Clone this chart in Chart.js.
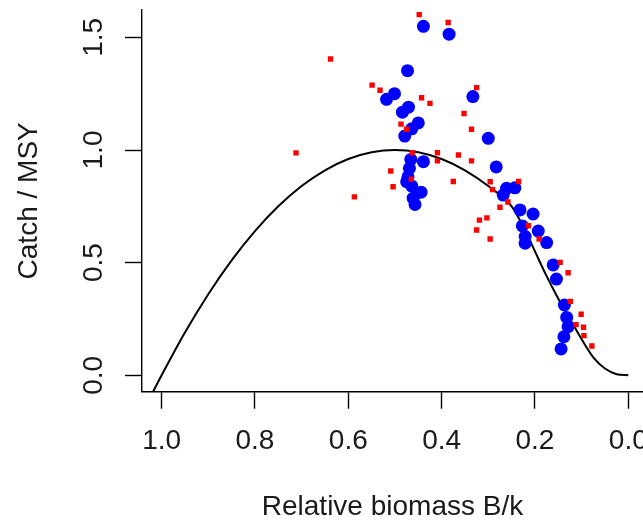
<!DOCTYPE html>
<html>
<head>
<meta charset="utf-8">
<script src="https://cdn.jsdelivr.net/npm/chart.js@4"></script>
<style>
  html, body { margin: 0; padding: 0; background: #fff; }
</style>
</head>
<body>
<canvas id="grafico" width="643" height="523"></canvas>
<script>
// pontos azuis (grandes)
var blueX = [0.439, 0.384, 0.473, 0.501, 0.518, 0.333, 0.471, 0.484, 0.450, 0.464, 0.479, 0.300, 0.283,
             0.466, 0.439, 0.469, 0.472, 0.475, 0.464, 0.444, 0.461, 0.457, 0.261, 0.243, 0.268, 0.232,
             0.204, 0.227, 0.193, 0.221, 0.175, 0.221, 0.161, 0.154, 0.137, 0.132, 0.129, 0.138, 0.144];
var blueY = [1.549, 1.514, 1.352, 1.250, 1.225, 1.237, 1.190, 1.168, 1.120, 1.094, 1.062, 1.052, 0.925,
             0.958, 0.948, 0.919, 0.881, 0.859, 0.840, 0.813, 0.786, 0.758, 0.830, 0.832, 0.800, 0.734,
             0.716, 0.663, 0.640, 0.616, 0.589, 0.586, 0.490, 0.427, 0.312, 0.257, 0.216, 0.171, 0.117];

// pontos vermelhos (pequenos)
var redX = [0.448, 0.386, 0.638, 0.549, 0.532, 0.443, 0.425, 0.325, 0.352, 0.336, 0.487, 0.475, 0.463,
            0.409, 0.409, 0.364, 0.336, 0.712, 0.587, 0.509, 0.504, 0.465, 0.375, 0.296, 0.291, 0.235,
            0.258, 0.275, 0.303, 0.319, 0.325, 0.296, 0.214, 0.191, 0.146, 0.129, 0.124, 0.101, 0.112,
            0.096, 0.095, 0.078];
var redY = [1.601, 1.566, 1.404, 1.288, 1.265, 1.232, 1.207, 1.277, 1.162, 1.092, 1.115, 1.092, 0.988,
            0.988, 0.952, 0.978, 0.952, 0.987, 0.792, 0.907, 0.837, 0.871, 0.860, 0.859, 0.824, 0.860,
            0.769, 0.746, 0.699, 0.689, 0.645, 0.605, 0.664, 0.605, 0.501, 0.455, 0.328, 0.271, 0.225,
            0.213, 0.176, 0.130];

// curva preta
var curveX = [1.02, 1.0, 0.95, 0.9, 0.85, 0.8, 0.75, 0.7, 0.65, 0.6, 0.55, 0.5, 0.45, 0.4, 0.35, 0.3,
              0.25, 0.225, 0.2, 0.175, 0.15, 0.125, 0.1, 0.075, 0.05, 0.025, 0];
var curveY = [-0.08, 0, 0.19, 0.36, 0.51, 0.64, 0.75, 0.84, 0.91, 0.96, 0.99, 1.0, 0.99, 0.96, 0.91, 0.84,
              0.75, 0.66, 0.55, 0.44, 0.34, 0.25, 0.16, 0.08, 0.03, 0.005, 0];

// ticks
var xTicks = [0, 0.2, 0.4, 0.6, 0.8, 1.0];
var yTicks = [0, 0.5, 1.0, 1.5];

var fonte = '"Liberation Sans", Arial, sans-serif';
var corTexto = '#1a1a1a';

function pares(xs, ys) {
    return xs.map(function (x, i) { return { x: x, y: ys[i] }; });
}

// rótulos do eixo Y girados (estilo R)
var rotulosY = {
    id: 'rotulosY',
    afterDraw: function (chart) {
        var ctx = chart.ctx;
        var sy = chart.scales.y;
        ctx.save();
        ctx.fillStyle = corTexto;
        ctx.font = '28px ' + fonte;
        ctx.textAlign = 'center';
        ctx.textBaseline = 'middle';
        yTicks.forEach(function (v) {
            var py = sy.getPixelForValue(v);
            ctx.save();
            ctx.translate(94, py);
            ctx.rotate(-Math.PI / 2);
            ctx.fillText(v.toFixed(1), 0, 0);
            ctx.restore();
        });
        ctx.restore();
    }
};

var ctx = document.getElementById('grafico').getContext('2d');
var myChart = new Chart(ctx, {
    type: 'scatter',
    data: {
        datasets: [
            {
                label: 'red',
                data: pares(redX, redY),
                pointStyle: 'rect',
                pointRadius: 3.8,
                backgroundColor: '#ff0000',
                borderWidth: 0,
                order: 0
            },
            {
                label: 'blue',
                data: pares(blueX, blueY),
                pointStyle: 'circle',
                pointRadius: 6.5,
                backgroundColor: '#0000ff',
                borderWidth: 0,
                order: 1
            },
            {
                type: 'line',
                label: 'curve',
                data: pares(curveX, curveY),
                borderColor: '#000',
                borderWidth: 2,
                pointRadius: 0,
                cubicInterpolationMode: 'monotone',
                fill: false,
                order: 2
            }
        ]
    },
    options: {
        responsive: false,
        animation: false,
        layout: { autoPadding: false, padding: { top: 10, left: 0, right: 0, bottom: 0 } },
        scales: {
            x: {
                type: 'linear',
                reverse: true,
                min: -0.0315,
                max: 1.042,
                afterBuildTicks: function (s) {
                    s.ticks = xTicks.map(function (v) { return { value: v }; });
                },
                afterFit: function (s) {
                    s.height = 131.3;
                    s.paddingLeft = 0;
                    s.paddingRight = 0;
                },
                grid: {
                    display: true,
                    drawOnChartArea: false,
                    drawTicks: true,
                    tickLength: 17,
                    tickWidth: 1.4,
                    tickColor: '#000'
                },
                border: { display: true, color: '#000', width: 1.4 },
                ticks: {
                    autoSkip: false,
                    maxRotation: 0,
                    padding: 19,
                    color: corTexto,
                    font: { family: fonte, size: 28, lineHeight: 1 },
                    callback: function (v) { return v.toFixed(1); }
                },
                title: {
                    display: true,
                    text: 'Relative biomass B/k',
                    color: corTexto,
                    font: { family: fonte, size: 28, lineHeight: 1 },
                    padding: { top: 0, bottom: 1.5 }
                }
            },
            y: {
                type: 'linear',
                min: -0.0728,
                max: 1.6214,
                afterBuildTicks: function (s) {
                    s.ticks = yTicks.map(function (v) { return { value: v }; });
                },
                afterFit: function (s) {
                    s.width = 142;
                    s.paddingTop = 0;
                    s.paddingBottom = 0;
                },
                grid: {
                    display: true,
                    drawOnChartArea: false,
                    drawTicks: true,
                    tickLength: 17,
                    tickWidth: 1.4,
                    tickColor: '#000'
                },
                border: { display: true, color: '#000', width: 1.4 },
                ticks: { display: false },
                title: {
                    display: true,
                    text: 'Catch / MSY',
                    color: corTexto,
                    font: { family: fonte, size: 28, lineHeight: 1 },
                    padding: { top: 15, bottom: 0 }
                }
            }
        },
        plugins: {
            legend: { display: false },
            tooltip: { enabled: false }
        }
    },
    plugins: [rotulosY]
});
</script>
</body>
</html>
